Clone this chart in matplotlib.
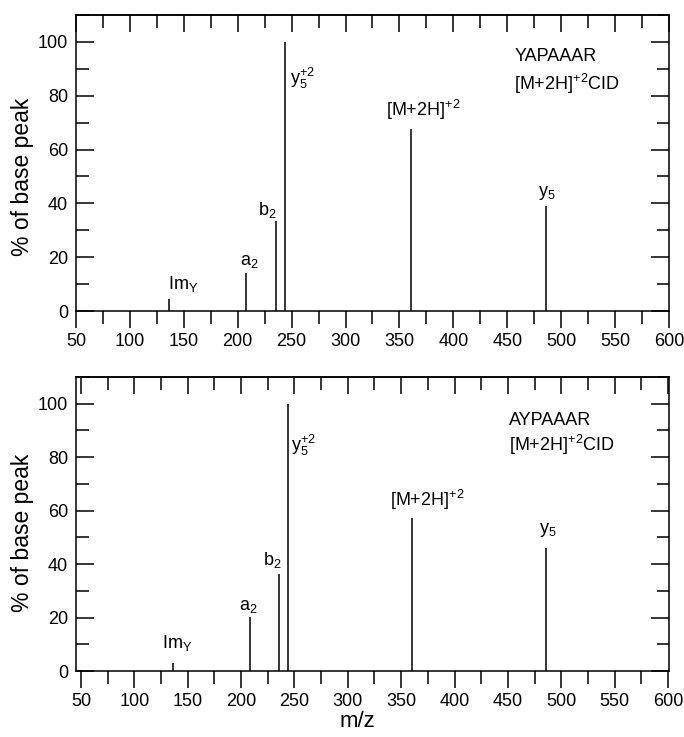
import matplotlib
matplotlib.use("Agg")
import matplotlib.pyplot as plt
from matplotlib.ticker import MultipleLocator

plt.rcParams['font.family'] = ['Liberation Sans', 'DejaVu Sans']
plt.rcParams['mathtext.fontset'] = 'custom'
plt.rcParams['mathtext.rm'] = 'Liberation Sans'
plt.rcParams['mathtext.it'] = 'Liberation Sans'
plt.rcParams['mathtext.bf'] = 'Liberation Sans:bold'

# ---- data ----
peak_labels = [r'Im$_\mathrm{Y}$', r'a$_2$', r'b$_2$', r'y$_5^{+2}$', r'[M+2H]$^{+2}$', r'y$_5$']
mz = [136, 208, 235.5, 243.8, 360.5, 486]
top_intensity = [4.5, 14, 33.3, 100, 67.5, 39.2]
bottom_intensity = [2.9, 20.3, 36.2, 100, 57.4, 46]
top_title = ['YAPAAAR', r'[M+2H]$^{+2}$CID']
bottom_title = ['AYPAAAR', r'[M+2H]$^{+2}$CID']
x_label = 'm/z'
y_label = '% of base peak'

# ---- style ----
PX = 72 / 100.0  # px -> pt
# (ha, va, dx_px, dy_px)
top_label_style = [('left', 'bottom', -1, 5), ('left', 'bottom', -6, 3),
                   ('right', 'bottom', 1, 1), ('left', 'top', 5, -24),
                   ('center', 'bottom', 12, 7), ('center', 'bottom', 1, 4)]
bottom_label_style = [('left', 'bottom', -11, 10), ('left', 'bottom', -11, 2),
                      ('right', 'bottom', 2.5, 4), ('left', 'top', 3.5, -29),
                      ('center', 'bottom', 14.5, 6), ('center', 'bottom', 2, 9)]

fig = plt.figure(figsize=(6.84, 7.37), dpi=100)
W, H = 684, 737

def make_axes(rect_px, xlim, intens, styles, title, title_pos):
    l, t, r, b = rect_px
    ax = fig.add_axes([l / W, 1 - b / H, (r - l) / W, (b - t) / H])
    ax.vlines(mz, 0, intens, color='black', lw=1.1)
    ax.set_xlim(*xlim)
    ax.set_ylim(0, 110)
    ax.xaxis.set_major_locator(MultipleLocator(50))
    ax.xaxis.set_minor_locator(MultipleLocator(25))
    ax.yaxis.set_major_locator(MultipleLocator(20))
    ax.yaxis.set_minor_locator(MultipleLocator(10))
    for s in ax.spines.values():
        s.set_linewidth(1.1)
    ax.tick_params(axis='x', which='both', direction='out', top=False, width=1.1,
                   labelsize=13, pad=3.3)
    ax.tick_params(axis='x', which='major', length=12.5)
    ax.tick_params(axis='x', which='minor', length=9)
    ax.tick_params(axis='y', which='both', direction='in', left=True, right=True,
                   width=1.1, labelsize=13, pad=5.8)
    ax.tick_params(axis='y', which='major', length=13)
    ax.tick_params(axis='y', which='minor', length=9)
    sec = ax.secondary_xaxis('top')
    sec.xaxis.set_major_locator(MultipleLocator(50))
    sec.xaxis.set_minor_locator(MultipleLocator(25))
    sec.tick_params(axis='x', which='both', direction='in', labeltop=False, width=1.1)
    sec.tick_params(axis='x', which='major', length=12.5)
    sec.tick_params(axis='x', which='minor', length=9)
    sec.spines['top'].set_linewidth(1.1)
    for lab, x, h, (ha, va, dx, dy) in zip(peak_labels, mz, intens, styles):
        ax.annotate(lab, xy=(x, h), xytext=(dx * PX, dy * PX), textcoords='offset points',
                    ha=ha, va=va, fontsize=13)
    tx, ty1, ty2 = title_pos
    ax.text(tx, ty1, title[0], transform=ax.transAxes, ha='left', va='top', fontsize=13)
    ax.text(tx, ty2, title[1], transform=ax.transAxes, ha='left', va='top', fontsize=13)
    return ax

ax1 = make_axes((76, 15, 669, 311), (50, 600), top_intensity, top_label_style,
                top_title, (0.739, 0.889, 0.807))
ax2 = make_axes((76, 377, 669, 671), (45.3, 601), bottom_intensity, bottom_label_style,
                bottom_title, (0.730, 0.881, 0.810))

fig.text(23 / W, 1 - 176.5 / H, y_label, rotation=90, ha='center', va='center', fontsize=16.5)
fig.text(23 / W, 1 - 532.5 / H, y_label, rotation=90, ha='center', va='center', fontsize=16.5)
fig.text(357 / W, 1 - 711 / H, x_label, ha='center', va='top', fontsize=16)

fig.savefig('out.png', dpi=100)
